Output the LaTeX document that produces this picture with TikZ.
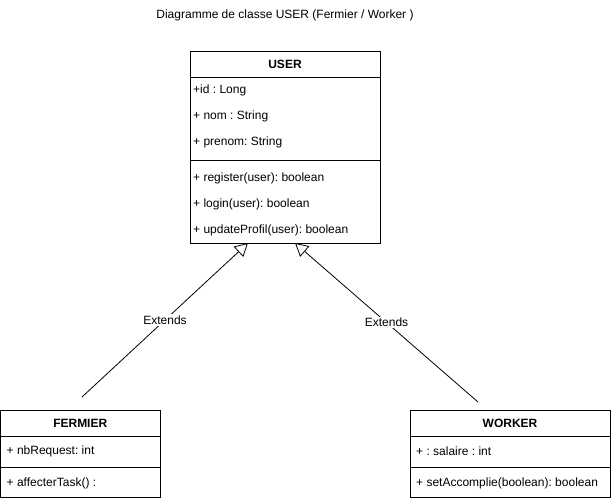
\documentclass[tikz,border=0pt]{standalone}
\usepackage{fontspec}
\setmainfont{Liberation Sans}
\usetikzlibrary{arrows.meta,positioning}
\tikzset
{
    classhead/.style = {rectangle, draw=black, line width=0.8pt, outer sep=0pt, inner sep=0pt, font=\fontsize{12}{14}\selectfont\bfseries},
    compart/.style   = {rectangle, draw=black, line width=0.8pt, outer sep=0pt, inner sep=0pt},
    member/.style    = {anchor=west, inner sep=0pt},
    extends/.style   = {line width=0.8pt, -{Triangle[open, length=13pt, width=14pt, fill=white]}},
    extlabel/.style  = {fill=white, inner sep=1.5pt}
}
\frenchspacing

\begin{document}
\begin{tikzpicture}[x=1pt, y=-1pt, font=\fontsize{12}{14}\selectfont]
	 \newcommand\MEMDX{3}
	 \newcommand\ROWDY{26}
	 \useasboundingbox (0,0) rectangle (611,500);

	 \node (title) at (285,15) {Diagramme de classe USER (Fermier / Worker )};

	 % USER
	 \node (user)     [classhead, minimum width=190pt, minimum height=26pt] at (285,64) {USER};
	 \node (userattr) [compart, minimum width=190pt, minimum height=83pt, below=0pt of user] {};
	 \node (userops)  [compart, minimum width=190pt, minimum height=83pt, below=0pt of userattr] {};

	 \node (uid)      [member] at ([shift=({\MEMDX, 13.5})]userattr.north west) {+id : Long};
	 \node (unom)     [member] at ([shift=({0, \ROWDY})]uid.west)               {+ nom : String};
	 \node (uprenom)  [member] at ([shift=({0, \ROWDY})]unom.west)              {+ prenom: String};
	 \node (uregister)[member] at ([shift=({\MEMDX, 18.5})]userops.north west)  {+ register(user): boolean};
	 \node (ulogin)   [member] at ([shift=({0, \ROWDY})]uregister.west)         {+ login(user): boolean};
	 \node (uupdate)  [member] at ([shift=({0, \ROWDY})]ulogin.west)            {+ updateProfil(user): boolean};

	 % FERMIER
	 \node (fermier)     [classhead, minimum width=159.5pt, minimum height=26pt] at (80.25,423) {FERMIER};
	 \node (fermierattr) [compart, minimum width=159.5pt, minimum height=31pt, below=0pt of fermier] {};
	 \node (fermierops)  [compart, minimum width=159.5pt, minimum height=30pt, below=0pt of fermierattr] {};

	 \node (fnbreq)   [member] at ([shift=({\MEMDX+3, 15})]fermierattr.north west) {+ nbRequest: int};
	 \node (faffect)  [member] at ([shift=({\MEMDX+3, 16.5})]fermierops.north west) {+ affecterTask() :};

	 % WORKER
	 \node (worker)     [classhead, minimum width=200pt, minimum height=26pt] at (510,423) {WORKER};
	 \node (workerattr) [compart, minimum width=200pt, minimum height=31pt, below=0pt of worker] {};
	 \node (workerops)  [compart, minimum width=200pt, minimum height=30pt, below=0pt of workerattr] {};

	 \node (wsalaire) [member] at ([shift=({\MEMDX+3, 15})]workerattr.north west) {+ : salaire : int};
	 \node (waccomp)  [member] at ([shift=({\MEMDX+3, 16.5})]workerops.north west) {+ setAccomplie(boolean): boolean};

	 % heritage
	 \coordinate (fend) at (82,397);
	 \coordinate (wend) at (478,402);
	 \coordinate (ftip) at ([xshift=-37pt]userops.south);
	 \coordinate (wtip) at ([xshift=10pt]userops.south);

	 \draw[extends] (fend) -- node[extlabel] (fext) {Extends} (ftip);
	 \draw[extends] (wend) -- node[extlabel] (wext) {Extends} (wtip);
\end{tikzpicture}
\end{document}
